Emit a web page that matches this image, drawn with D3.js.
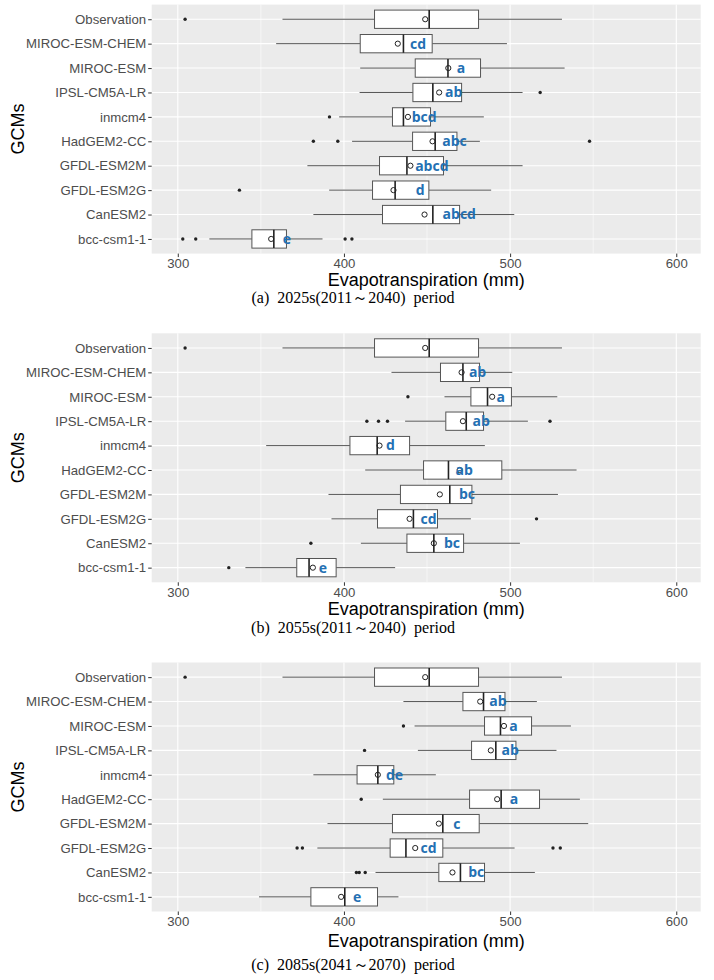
<!DOCTYPE html>
<html><head><meta charset="utf-8">
<script src="https://cdn.jsdelivr.net/npm/d3@7"></script>
<style>body{margin:0;background:#fff}svg{display:block}</style>
</head><body>
<script>
const categories = ["Observation","MIROC-ESM-CHEM","MIROC-ESM","IPSL-CM5A-LR","inmcm4","HadGEM2-CC","GFDL-ESM2M","GFDL-ESM2G","CanESM2","bcc-csm1-1"];
const captions = ["(a)  2025s(2011～2040)  period","(b)  2055s(2011～2040)  period","(c)  2085s(2041～2070)  period"];
const xTicks = [300,400,500,600];
const xMinor = [350,450,550];
const xTitle = "Evapotranspiration (mm)";
const yTitle = "GCMs";

// Panel (a)
const lowA  = [363.0,359.2,409.8,409.4,397.1,404.9,378.0,391.1,381.6,319.0];
const q1A   = [418.4,409.8,442.9,441.5,429.2,441.3,421.4,417.2,423.2,344.6];
const medA  = [451.3,435.8,462.6,453.5,435.8,454.9,437.9,430.8,453.5,357.8];
const q3A   = [481.0,453.1,482.2,470.8,452.1,468.0,459.9,451.1,469.6,365.4];
const highA = [531.2,498.1,532.8,507.5,484.2,481.8,507.5,488.6,502.5,387.1];
const meanA = [448.9,432.4,462.8,457.3,438.5,453.3,440.0,429.8,448.5,356.2];
const outA  = [[304.4],[],[],[518.1],[391.3],[381.6,396.3,547.8],[],[337.1],[],[303.0,310.8,400.7,404.8]];
const letA  = ["","cd","a","ab","bcd","abc","abcd","d","abcd","e"];
const letXA = [0,444.6,470.4,466.0,448.3,466.5,452.9,445.9,469.4,365.6];

// Panel (b)
const lowB  = [363.0,428.6,460.5,436.8,353.2,412.8,390.7,392.5,410.2,340.7];
const q1B   = [418.4,458.1,476.4,461.3,403.6,447.9,434.0,420.2,437.9,371.6];
const medB  = [451.3,471.6,486.4,473.6,420.0,462.9,463.7,441.8,454.1,379.0];
const q3B   = [481.0,481.6,500.8,484.0,439.5,495.0,477.0,456.3,472.0,395.3];
const highB = [531.2,501.3,528.4,510.7,484.8,540.0,528.8,476.4,505.9,430.8];
const meanB = [448.9,470.8,489.2,471.6,421.4,469.6,457.7,439.5,454.1,381.3];
const outB  = [[304.4],[],[438.5],[413.8,420.8,426.2,524.0],[],[],[],[515.9],[380.1],[330.7]];
const letB  = ["","ab","a","ab","d","ab","bc","cd","bc","e"];
const letXB = [0,480.4,494.4,482.6,428.0,472.4,474.0,450.9,465.0,387.3];

// Panel (c)
const lowC  = [363.0,435.8,442.5,444.5,381.6,423.4,390.1,384.0,419.0,348.9];
const q1C   = [418.4,471.6,484.6,476.8,407.9,475.6,429.2,427.8,457.1,380.1];
const medC  = [451.3,484.0,494.2,491.4,420.4,494.6,459.5,437.3,470.1,400.5];
const q3C   = [481.0,496.9,512.9,503.5,430.0,517.7,481.4,459.5,484.6,420.2];
const highC = [531.2,516.1,536.6,527.9,455.3,542.0,547.0,502.7,514.9,432.8];
const meanC = [448.9,482.0,496.3,488.4,420.4,492.2,457.1,442.9,465.3,398.3];
const outC  = [[304.4],[],[435.8],[412.4],[],[410.4],[],[371.8,375.0,525.8,530.2],[407.5,409.2,412.8],[]];
const letC  = ["","ab","a","ab","de","a","c","cd","bc","e"];
const letXC = [0,492.7,502.1,500.1,430.4,502.3,468.0,450.9,479.6,407.9];

const panels = [
  {low:lowA,q1:q1A,med:medA,q3:q3A,high:highA,mean:meanA,out:outA,let:letA,letX:letXA,cap:captions[0]},
  {low:lowB,q1:q1B,med:medB,q3:q3B,high:highB,mean:meanB,out:outB,let:letB,letX:letXB,cap:captions[1]},
  {low:lowC,q1:q1C,med:medC,q3:q3C,high:highC,mean:meanC,out:outC,let:letC,letX:letXC,cap:captions[2]}
];
// layout
const W=714,H=980;
const panelTop=[4.6,333.3,662.5];
const panelH=249.0;
const titleOff=[26,26,29];
const capOff=[44,45,53];
const left=151.7,right=700.7;

const svg=d3.select("body").append("svg").attr("width",W).attr("height",H);
const x=d3.scaleLinear().domain([284.3,614.7]).range([left,right]);

panels.forEach((p,pi)=>{
  const top=panelTop[pi], bottom=top+panelH;
  const y=d3.scalePoint().domain(categories).range([top,bottom]).padding(0.6);
  const step=y.step(), bh=step*0.75;
  const g=svg.append("g");
  g.append("rect").attr("x",left).attr("y",top).attr("width",right-left).attr("height",panelH).attr("fill","#EBEBEB");
  // minor grid
  g.selectAll(".mn").data(xMinor).join("line").attr("x1",d=>x(d)).attr("x2",d=>x(d)).attr("y1",top).attr("y2",bottom).attr("stroke","#fff").attr("stroke-width",0.55);
  g.selectAll(".mj").data(xTicks).join("line").attr("x1",d=>x(d)).attr("x2",d=>x(d)).attr("y1",top).attr("y2",bottom).attr("stroke","#fff").attr("stroke-width",1.1);
  g.selectAll(".hy").data(categories).join("line").attr("x1",left).attr("x2",right).attr("y1",d=>y(d)).attr("y2",d=>y(d)).attr("stroke","#fff").attr("stroke-width",1.1);

  // axes
  const xa=g.append("g").attr("transform",`translate(0,${bottom})`).call(d3.axisBottom(x).tickValues(xTicks).tickSize(3.5).tickPadding(2));
  xa.select(".domain").remove();
  xa.selectAll("line").attr("stroke","#333");
  xa.selectAll("text").attr("fill","#4D4D4D").style("font-family","'Liberation Sans',Arial,sans-serif").style("font-size","13.2px");
  const ya=g.append("g").attr("transform",`translate(${left},0)`).call(d3.axisLeft(y).tickSize(3.5).tickPadding(2));
  ya.select(".domain").remove();
  ya.selectAll("line").attr("stroke","#333");
  ya.selectAll("text").attr("fill","#4D4D4D").style("font-family","'Liberation Sans',Arial,sans-serif").style("font-size","13.2px");

  // boxes
  categories.forEach((c,i)=>{
    const cy=y(c);
    const bg=g.append("g");
    bg.append("line").attr("x1",x(p.low[i])).attr("x2",x(p.q1[i])).attr("y1",cy).attr("y2",cy).attr("stroke","#555").attr("stroke-width",1);
    bg.append("line").attr("x1",x(p.q3[i])).attr("x2",x(p.high[i])).attr("y1",cy).attr("y2",cy).attr("stroke","#555").attr("stroke-width",1);
    bg.append("rect").attr("x",x(p.q1[i])).attr("y",cy-bh/2).attr("width",x(p.q3[i])-x(p.q1[i])).attr("height",bh).attr("fill","#fff").attr("stroke","#555").attr("stroke-width",1);
    bg.append("line").attr("x1",x(p.med[i])).attr("x2",x(p.med[i])).attr("y1",cy-bh/2).attr("y2",cy+bh/2).attr("stroke","#222").attr("stroke-width",1.6);
    bg.selectAll("circle.o").data(p.out[i]).join("circle").attr("cx",d=>x(d)).attr("cy",cy).attr("r",1.7).attr("fill","#222");
    bg.append("circle").attr("cx",x(p.mean[i])).attr("cy",cy).attr("r",2.6).attr("fill","none").attr("stroke","#222").attr("stroke-width",1);
    if(p.let[i]){
      bg.append("text").attr("x",x(p.letX[i])).attr("y",cy).attr("dy","0.35em").attr("text-anchor","middle")
        .attr("fill","#2470B3").style("font-family","'Open Sans',sans-serif").style("font-weight","bold").style("font-size","14px").text(p.let[i]);
    }
  });

  // titles
  svg.append("text").attr("x",(left+right)/2).attr("y",bottom+titleOff[pi]).attr("dy","0.35em").attr("text-anchor","middle")
    .style("font-family","'Liberation Sans',Arial,sans-serif").style("font-size","18px").attr("fill","#000").text(xTitle);
  svg.append("text").attr("transform",`translate(18,${(top+bottom)/2}) rotate(-90)`).attr("dy","0.35em").attr("text-anchor","middle")
    .style("font-family","'Liberation Sans',Arial,sans-serif").style("font-size","18px").attr("fill","#000").text(yTitle);
  svg.append("text").attr("x",353).attr("y",bottom+capOff[pi]).attr("dy","0.35em").attr("text-anchor","middle")
    .style("font-family","'Liberation Serif','Times New Roman',serif").style("font-size","16px").attr("fill","#000").style("white-space","pre").text(p.cap);
});
</script>
</body></html>
